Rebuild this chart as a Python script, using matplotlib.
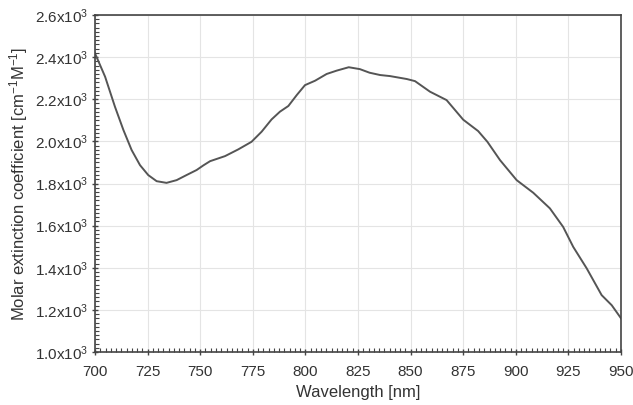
import matplotlib
matplotlib.use("Agg")
import matplotlib.pyplot as plt
from matplotlib.ticker import MultipleLocator, FuncFormatter

plt.rcParams['font.family'] = ['Liberation Sans', 'DejaVu Sans']
plt.rcParams['mathtext.fontset'] = 'custom'
plt.rcParams['mathtext.rm'] = 'Liberation Sans'
plt.rcParams['mathtext.it'] = 'Liberation Sans'

wavelength = [700, 704.8, 709.5, 713.5, 717.4, 721.4, 725.3, 729.3, 734.0, 738.8,
              743.5, 748.3, 751.5, 754.7, 761.8, 768.1, 774.4, 779.2, 783.9, 787.9,
              791.9, 795.9, 799.8, 804.6, 810.1, 814.9, 820.6, 825.9, 830.5, 835.5,
              840.2, 848.2, 852.1, 859.2, 867.1, 871.1, 875.0, 882.1, 886.5, 892.5,
              900.4, 908.3, 916.2, 922.5, 927.3, 933.7, 940.8, 945.6, 950]
epsilon = [2418, 2307, 2164, 2054, 1959, 1887, 1840, 1811, 1803, 1816,
           1840, 1864, 1886, 1906, 1930, 1962, 1998, 2046, 2104, 2141,
           2168, 2220, 2267, 2288, 2320, 2336, 2352, 2343, 2326, 2315,
           2310, 2296, 2286, 2236, 2196, 2149, 2103, 2049, 1998, 1911,
           1816, 1756, 1682, 1594, 1499, 1397, 1270, 1222, 1160]

fig = plt.figure(figsize=(6.33, 4.05), dpi=100)
ax = fig.add_axes([95/633, 1 - 352/405, 526/633, 337/405])
ax.plot(wavelength, epsilon, color='#555555', lw=1.4, solid_joinstyle='round')
ax.set_xlim(700, 950)
ax.set_ylim(1000, 2600)
ax.xaxis.set_major_locator(MultipleLocator(25))
ax.xaxis.set_minor_locator(MultipleLocator(2.5))
ax.yaxis.set_major_locator(MultipleLocator(200))
ax.yaxis.set_minor_locator(MultipleLocator(20))

def yfmt(v, pos):
    return r'%.1fx10$^3$' % (v / 1000)
ax.yaxis.set_major_formatter(FuncFormatter(yfmt))

ax.grid(True, which='major', color='#e4e4e4', lw=0.8)
ax.set_axisbelow(True)
for s in ax.spines.values():
    s.set_color('#444444')
    s.set_linewidth(1.2)
ax.tick_params(which='major', direction='inout', length=5, width=1, color='#444444',
               labelsize=11, labelcolor='#333333', pad=2)
ax.tick_params(axis='x', which='major', pad=7)
ax.tick_params(which='minor', direction='in', length=3, width=0.8, color='#444444')
ax.tick_params(axis='x', which='both', top=False)
ax.tick_params(axis='y', which='both', right=False)
ax.set_xlabel('Wavelength [nm]', fontsize=12, color='#333333', labelpad=4)
ax.set_ylabel('Molar extinction coefficient [cm$^{-1}$M$^{-1}$]', fontsize=12, color='#333333', labelpad=4)
fig.savefig('out.png', dpi=100, facecolor='white')
